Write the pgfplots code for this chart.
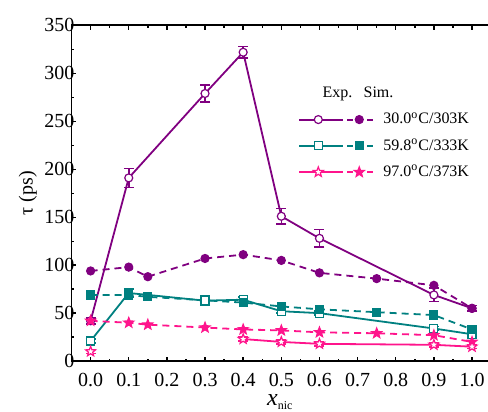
\documentclass[border={6pt 0pt 0pt 6pt}]{standalone}
\usepackage{fontspec}
\setmainfont{Liberation Serif}
\usepackage{pgfplots}
\pgfplotsset{compat=1.18}
\definecolor{cpur}{RGB}{128,0,128}
\definecolor{cteal}{RGB}{0,128,128}
\definecolor{cpink}{RGB}{255,20,140}
\pgfdeclareplotmark{fstar}{%
  \pgfpathmoveto{\pgfpointpolar{90}{1.3\pgfplotmarksize}}%
  \pgfpathlineto{\pgfpointpolar{126}{0.55\pgfplotmarksize}}%
  \pgfpathlineto{\pgfpointpolar{162}{1.3\pgfplotmarksize}}%
  \pgfpathlineto{\pgfpointpolar{198}{0.55\pgfplotmarksize}}%
  \pgfpathlineto{\pgfpointpolar{234}{1.3\pgfplotmarksize}}%
  \pgfpathlineto{\pgfpointpolar{270}{0.55\pgfplotmarksize}}%
  \pgfpathlineto{\pgfpointpolar{306}{1.3\pgfplotmarksize}}%
  \pgfpathlineto{\pgfpointpolar{342}{0.55\pgfplotmarksize}}%
  \pgfpathlineto{\pgfpointpolar{18}{1.3\pgfplotmarksize}}%
  \pgfpathlineto{\pgfpointpolar{54}{0.55\pgfplotmarksize}}%
  \pgfpathclose\pgfusepathqfillstroke}
\pgfplotsset{
  dual/.style n args={3}{legend image code/.code={
    \draw[#1, line width=1pt] (0pt,0pt) -- (19pt,0pt);
    \draw[#1, line width=1pt, dash pattern=on 3pt off 2pt] (19pt,0pt) -- (38pt,0pt);
    \draw[#1, line width=0.6pt, mark=#2, mark size=2pt, mark options={solid, fill=white}] plot coordinates {(9.5pt,0pt)};
    \draw[#1, line width=0.6pt, mark=#3, mark size=2pt, mark options={solid, fill=#1}] plot coordinates {(30pt,0pt)};
  }},
  expstyle/.style={#1, line width=0.9pt, mark size=2pt, mark options={solid, fill=white, line width=0.6pt},
    error bars/y dir=both, error bars/y explicit,
    error bars/error bar style={line width=0.8pt, #1},
    error bars/error mark options={rotate=90, mark size=2.5pt, line width=0.8pt, #1}},
  simstyle/.style={#1, line width=0.9pt, dash pattern=on 3.5pt off 2.5pt, mark size=2pt,
    mark options={solid, fill=#1, line width=0.6pt}},
}
\begin{document}
\begin{tikzpicture}
\begin{axis}[
  scale only axis, width=209pt, height=168pt,
  xmin=-0.05, xmax=1.045, ymin=0, ymax=350,
  axis line style={line width=0.9pt, black},
  xtick={0,0.1,0.2,0.3,0.4,0.5,0.6,0.7,0.8,0.9,1.0},
  xticklabels={0.0,0.1,0.2,0.3,0.4,0.5,0.6,0.7,0.8,0.9,1.0},
  ytick={0,50,100,150,200,250,300,350},
  minor x tick num=1, minor y tick num=1,
  xtick pos=both, ytick pos=left,
  xticklabel pos=lower,
  tick align=inside, major tick length=2.2pt, minor tick length=1.3pt,
  tick style={line width=0.7pt, black},
  /pgf/number format/assume math mode=true,
  ticklabel style={font=\fontsize{10}{12}\selectfont},
  yticklabel shift=-5pt, xticklabel shift=2.5pt,
  xlabel={\fontsize{12}{14}\selectfont\textit{x}\textsubscript{\fontsize{6}{7}\selectfont nic}},
  ylabel={\fontsize{10}{12}\selectfont τ (ps)},
  xlabel style={yshift=0.5pt, inner sep=1pt},
  ylabel style={yshift=-3pt},
  legend style={draw=none, fill=none, at={(rel axis cs:0.542,0.83)}, anchor=north west,
    font=\fontsize{8}{10}\selectfont, row sep=2pt, inner sep=0pt, column sep=-9pt},
  legend cell align=left,
  extra description/.code={\draw[line width=1pt, black] (rel axis cs:0,1) -- (rel axis cs:1,1);},
]
\addlegendimage{legend image code/.code={
  \node[font=\fontsize{8}{10}\selectfont] at (9.5pt,0pt) {Exp.};
  \node[font=\fontsize{8}{10}\selectfont] at (30pt,0pt) {Sim.};
  \path[draw=none] (0pt,0pt) -- (38pt,0pt);}}
\addlegendentry{}
\addlegendimage{dual={cpur}{*}{*}}
\addlegendentry{30.0\textsuperscript{o}C/303K}
\addlegendimage{dual={cteal}{square*}{square*}}
\addlegendentry{59.8\textsuperscript{o}C/333K}
\addlegendimage{dual={cpink}{fstar}{fstar}}
\addlegendentry{97.0\textsuperscript{o}C/373K}

% purple experiment
\addplot[mark=*, expstyle=cpur, forget plot] table[x=x, y=y, y error=e] {
x y e
0.0 42 3
0.1 191 10
0.3 279 9
0.4 322 6
0.5 151 8
0.6 128 9
0.9 69 7
1.0 55 3
};
% purple simulation
\addplot[mark=*, simstyle=cpur, forget plot] coordinates {
(0.0,94) (0.1,98) (0.15,88) (0.3,107) (0.4,111) (0.5,105) (0.6,92) (0.75,86) (0.9,79) (1.0,55)
};
% teal experiment
\addplot[mark=square*, expstyle=cteal, forget plot] table[x=x, y=y, y error=e] {
x y e
0.0 21 2
0.1 71 4
0.3 63 5
0.4 64 3
0.5 52 2
0.6 50 2
0.9 34 2
1.0 28 2
};
% teal simulation
\addplot[mark=square*, simstyle=cteal, forget plot] coordinates {
(0.0,69) (0.1,69) (0.15,67) (0.4,61) (0.5,57) (0.6,54) (0.75,51) (0.9,48) (1.0,33)
};
% pink simulation
\addplot[mark=fstar, simstyle=cpink, forget plot] coordinates {
(0.0,42) (0.1,40) (0.15,38) (0.3,35) (0.4,33) (0.5,32) (0.6,30) (0.75,29) (0.9,27) (1.0,20)
};
% pink experiment
\addplot[mark=fstar, expstyle=cpink, forget plot] table[x=x, y=y, y error=e] {
x y e
0.4 23 2
0.5 20 2
0.6 18 2
0.9 17 2
1.0 15 2
};
\addplot[mark=fstar, only marks, expstyle=cpink, forget plot] table[x=x, y=y, y error=e] {
x y e
0.0 10 2
};
\end{axis}
\pgfresetboundingbox
\path[use as bounding box] (current axis.outer south west) rectangle ([xshift=-0.6pt]current axis.north east |- current axis.outer north east);
\end{tikzpicture}
\end{document}
